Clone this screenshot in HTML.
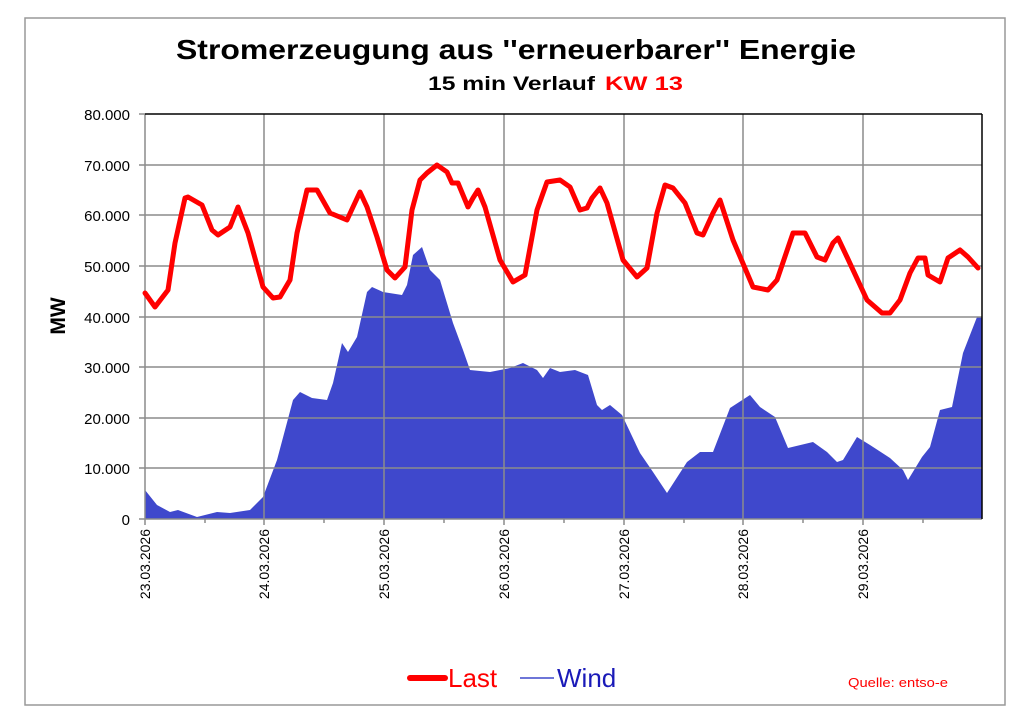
<!DOCTYPE html>
<html><head><meta charset="utf-8"><style>
body{margin:0;background:#fff;}
svg{display:block;font-family:"Liberation Sans",Arial,sans-serif;}
</style></head><body>
<svg width="1024" height="724" viewBox="0 0 1024 724">
<rect x="25" y="18" width="980" height="687" fill="#fff" stroke="#999" stroke-width="1.5"/>
<text x="176" y="59" font-size="28" font-weight="bold" textLength="680" lengthAdjust="spacingAndGlyphs">Stromerzeugung aus ''erneuerbarer'' Energie</text>
<text x="428" y="90" font-size="19" font-weight="bold" textLength="167" lengthAdjust="spacingAndGlyphs">15 min Verlauf</text>
<text x="605" y="90" font-size="19" font-weight="bold" fill="#f00" textLength="78" lengthAdjust="spacingAndGlyphs">KW 13</text>

<polygon fill="#3f48cc" points="145,519 145,490 157,505 170,512 178,510 197,517 217,512 230,513 250,510 263,497 277,460 293,400 300,392 312,398 327,400 333,383 342,343 348,352 357,337 367,292 372,287 383,292 402,295 407,285 413,255 422,247 430,270 440,280 453,323 463,350 470,370 490,372 510,368 523,363 537,370 543,378 550,368 560,372 575,370 588,375 597,405 602,410 610,405 622,415 640,453 653,472 667,493 687,462 700,452 713,452 730,408 750,395 760,407 775,417 788,448 813,442 827,452 837,462 843,460 857,437 870,445 890,458 903,470 908,480 922,457 930,447 940,410 952,407 963,353 977,317 982,317 982,519"/>

<g stroke="#8c8c8c" stroke-width="1.5">
<line x1="139" y1="165" x2="982" y2="165"/>
<line x1="139" y1="215" x2="982" y2="215"/>
<line x1="139" y1="266" x2="982" y2="266"/>
<line x1="139" y1="317" x2="982" y2="317"/>
<line x1="139" y1="367" x2="982" y2="367"/>
<line x1="139" y1="418" x2="982" y2="418"/>
<line x1="139" y1="468" x2="982" y2="468"/>
<line x1="139" y1="519" x2="982" y2="519"/>
<line x1="139" y1="114" x2="145" y2="114"/>
<line x1="145" y1="114" x2="145" y2="525"/>
<line x1="264" y1="114" x2="264" y2="525"/>
<line x1="384" y1="114" x2="384" y2="525"/>
<line x1="504" y1="114" x2="504" y2="525"/>
<line x1="624" y1="114" x2="624" y2="525"/>
<line x1="743" y1="114" x2="743" y2="525"/>
<line x1="863" y1="114" x2="863" y2="525"/>
<line x1="205" y1="519" x2="205" y2="523"/>
<line x1="324" y1="519" x2="324" y2="523"/>
<line x1="444" y1="519" x2="444" y2="523"/>
<line x1="564" y1="519" x2="564" y2="523"/>
<line x1="684" y1="519" x2="684" y2="523"/>
<line x1="803" y1="519" x2="803" y2="523"/>
<line x1="923" y1="519" x2="923" y2="523"/>
</g>
<line x1="145" y1="114" x2="982" y2="114" stroke="#000" stroke-width="1.5"/>
<line x1="982" y1="114" x2="982" y2="519" stroke="#000" stroke-width="1.5"/>

<polyline fill="none" stroke="#f00" stroke-width="5" stroke-linejoin="round" stroke-linecap="round" points="145,293 155,307 168,290 175,243 185,198 188,197 202,205 212,230 218,235 230,227 238,207 248,233 263,287 273,298 280,297 290,280 297,233 307,190 317,190 330,213 347,220 353,207 360,192 367,207 377,237 387,270 395,278 405,267 412,210 420,180 427,173 437,165 447,172 452,183 458,183 468,207 473,198 478,190 485,207 500,260 513,282 525,275 537,210 547,182 560,180 570,187 580,210 587,208 592,198 600,188 607,203 623,260 637,277 647,268 657,213 665,185 673,188 685,203 697,233 703,235 713,213 720,200 733,240 753,287 768,290 777,280 793,233 805,233 817,257 825,260 833,243 838,238 847,257 867,300 882,313 890,313 900,300 910,273 918,258 925,258 928,275 940,282 948,258 960,250 968,257 978,268"/>

<g font-size="15" text-anchor="end">
<text x="130" y="120">80.000</text>
<text x="130" y="171">70.000</text>
<text x="130" y="221">60.000</text>
<text x="130" y="272">50.000</text>
<text x="130" y="323">40.000</text>
<text x="130" y="373">30.000</text>
<text x="130" y="424">20.000</text>
<text x="130" y="474">10.000</text>
<text x="130" y="525">0</text>
</g>
<text transform="translate(65,316) rotate(-90)" text-anchor="middle" font-size="21" font-weight="bold">MW</text>
<g font-size="14" text-anchor="end">
<text transform="translate(150,529) rotate(-90)">23.03.2026</text>
<text transform="translate(269,529) rotate(-90)">24.03.2026</text>
<text transform="translate(389,529) rotate(-90)">25.03.2026</text>
<text transform="translate(509,529) rotate(-90)">26.03.2026</text>
<text transform="translate(629,529) rotate(-90)">27.03.2026</text>
<text transform="translate(748,529) rotate(-90)">28.03.2026</text>
<text transform="translate(868,529) rotate(-90)">29.03.2026</text>
</g>

<line x1="410" y1="678" x2="445" y2="678" stroke="#f00" stroke-width="6" stroke-linecap="round"/>
<text x="448" y="687" font-size="26" fill="#f00">Last</text>
<line x1="520" y1="678" x2="554" y2="678" stroke="#3f48cc" stroke-width="1.5"/>
<text x="557" y="687" font-size="26" fill="#1a1ab8">Wind</text>
<text x="848" y="687" font-size="13" fill="#f00" textLength="100" lengthAdjust="spacingAndGlyphs">Quelle: entso-e</text>
</svg>
</body></html>
